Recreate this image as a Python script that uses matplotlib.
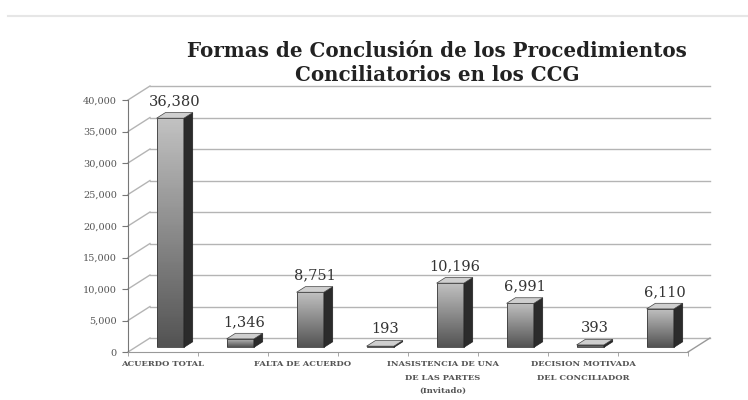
import numpy as np
import matplotlib.pyplot as plt
from matplotlib.patches import Polygon
from matplotlib.lines import Line2D

# data
categories = ["ACUERDO TOTAL", "", "FALTA DE ACUERDO", "",
              "INASISTENCIA DE UNA\nDE LAS PARTES\n(Invitado)", "",
              "DECISION MOTIVADA\nDEL CONCILIADOR", ""]
values = [36380, 1346, 8751, 193, 10196, 6991, 393, 6110]
yticks = [0, 5000, 10000, 15000, 20000, 25000, 30000, 35000, 40000]

title = "Formas de Conclusión de los Procedimientos\nConciliatorios en los CCG"

# fake 3d look (depth vector in data units)
DX, DY = 0.314, 2220       # full depth of the walls
FRONT = 0.33               # where the bar front face sits in depth
BDEPTH = 0.40              # bar depth as fraction of wall depth
W = 0.39                   # bar width

plt.rcParams['font.family'] = 'DejaVu Serif'

fig = plt.figure(figsize=(7.48, 4.0), dpi=100)
ax = fig.add_axes([128/748, 48/400, 560/748, 252/400])
n = len(values)
ax.set_xlim(-0.5, n - 0.5)
ax.set_ylim(0, 40000)

grid_c = "#b4b4b4"
# back wall + side wall gridlines
for v in yticks:
    ax.add_line(Line2D([-0.5 + DX, n - 0.5 + DX], [v + DY, v + DY], color=grid_c,
                       lw=1.0, zorder=1, clip_on=False))
    ax.add_line(Line2D([-0.5, -0.5 + DX], [v, v + DY], color=grid_c,
                       lw=1.0, zorder=1, clip_on=False))
# floor edge on the right
ax.add_line(Line2D([n - 0.5, n - 0.5 + DX], [0, DY], color="#999999", lw=1.0,
                   zorder=1, clip_on=False))

# bars
fx, fy = FRONT * DX, FRONT * DY
bx, by = BDEPTH * DX, BDEPTH * DY
x = np.arange(n)
bars = ax.bar(x + fx, values, width=W, bottom=fy, color="none",
              edgecolor="#3a3a3a", linewidth=0.6, zorder=3)
# light grey at the top, dark grey at the bottom
grad = np.linspace(0, 1, 100).reshape(-1, 1)
for i, (b, v) in enumerate(zip(bars, values)):
    xl = i + fx - W / 2
    xr = i + fx + W / 2
    top = v + fy
    im = ax.imshow(grad, extent=(xl, xr, fy, top), origin="lower", cmap="gray",
                   vmin=-0.75, vmax=1.55, aspect="auto", zorder=2)
    im.set_clip_path(b)
    side = Polygon([(xr, fy), (xr, top), (xr + bx, top + by), (xr + bx, fy + by)],
                   closed=True, facecolor="#2b2b2b", edgecolor="#222222", lw=0.5, zorder=3)
    topf = Polygon([(xl, top), (xr, top), (xr + bx, top + by), (xl + bx, top + by)],
                   closed=True, facecolor="#cfcfcf", edgecolor="#444444", lw=0.5, zorder=3)
    ax.add_patch(side)
    ax.add_patch(topf)
    ax.text(i + fx + bx / 2, top + by + 700, f"{v:,}", ha="center", va="bottom",
            fontsize=10.5, color="#333333", zorder=4, clip_on=False)

ax.set_xlim(-0.5, n - 0.5)
ax.set_ylim(0, 40000)

# axes
for s in ["top", "right"]:
    ax.spines[s].set_visible(False)
ax.spines["left"].set_color("#777777")
ax.spines["bottom"].set_color("#999999")
ax.set_yticks(yticks)
ax.set_yticklabels([f"{t:,}" for t in yticks], fontsize=7, color="#555555")
ax.tick_params(axis="y", length=4, color="#777777", pad=4)
ax.set_xticks(x)
ax.set_xticklabels(categories, fontsize=6, fontweight="bold", color="#555555",
                   linespacing=1.9)
ax.tick_params(axis="x", which="major", length=0, pad=6)
ax.set_xticks(np.arange(n + 1) - 0.5, minor=True)
ax.tick_params(axis="x", which="minor", length=3, color="#999999")

fig.text(0.584, 0.843, title, ha="center", va="center", fontsize=14.3,
         fontweight="bold", color="#222222", linespacing=1.25)
fig.add_artist(Line2D([8/748, 1], [1 - 16/400, 1 - 16/400], color="#e6e6e6", lw=1.5))

fig.savefig("out.png", dpi=100)
